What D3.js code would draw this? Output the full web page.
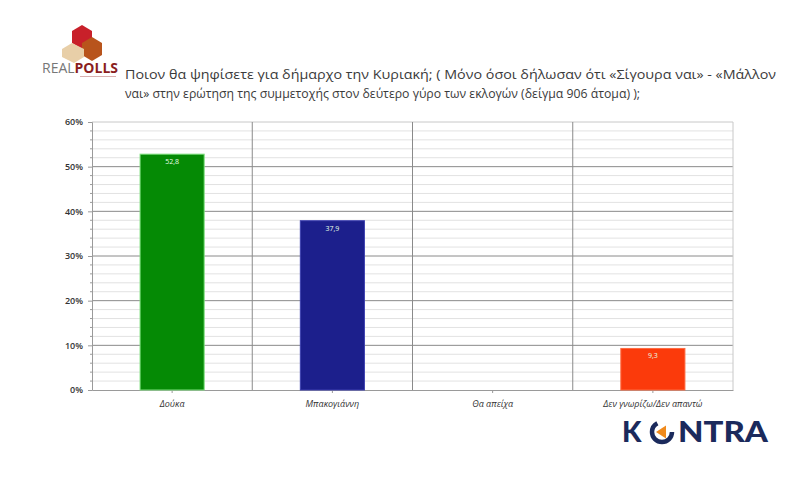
<!DOCTYPE html>
<html><head><meta charset="utf-8">
<script src="https://cdn.jsdelivr.net/npm/d3@7"></script>
<style>html,body{margin:0;padding:0;background:#fff;}svg{display:block;}</style>
</head><body>
<svg id="c" width="798" height="486"></svg>
<script>
const categories = ["Δούκα", "Μπακογιάννη", "Θα απείχα", "Δεν γνωρίζω/Δεν απαντώ"];
const values = [52.8, 37.9, 0, 9.3];
const valueLabels = ["52,8", "37,9", "", "9,3"];
const barColors = ["#058a05", "#1c1f8c", "#b0b0b0", "#fb3a0b"];
const barStrokes = ["#7fe07f", "#3c3fb0", "#b0b0b0", "#ff6a40"];
const yTicks = [0, 10, 20, 30, 40, 50, 60];
const titleLines = [
  "Ποιον θα ψηφίσετε για δήμαρχο την Κυριακή; ( Μόνο όσοι δήλωσαν ότι «Σίγουρα ναι» - «Μάλλον",
  "ναι» στην ερώτηση της συμμετοχής στον δεύτερο γύρο των εκλογών (δείγμα 906 άτομα) );"
];
const titleWidths = [651, 515];

const svg = d3.select("#c");
const L = 92, R = 733, T = 122, B = 390;

const x = d3.scaleBand().domain(categories).range([L, R]).paddingInner(0).paddingOuter(0);
const y = d3.scaleLinear().domain([0, 60]).range([B, T]);

// minor gridlines
const minor = d3.range(0, 61, 2).filter(v => v % 10 !== 0);
svg.append("g").selectAll("line").data(minor).join("line")
  .attr("x1", L).attr("x2", R).attr("y1", d => y(d)).attr("y2", d => y(d))
  .attr("stroke", "#e2e2e2").attr("stroke-width", 1);
// major gridlines
svg.append("g").selectAll("line").data(yTicks.filter(d => d > 0)).join("line")
  .attr("x1", L).attr("x2", R).attr("y1", d => y(d)).attr("y2", d => y(d))
  .attr("stroke", d => d === 60 ? "#c8c8c8" : "#8a8a8a").attr("stroke-width", 1);
// vertical category separators
const seps = categories.slice(1).map(c => x(c));
svg.append("g").selectAll("line").data(seps).join("line")
  .attr("x1", d => d).attr("x2", d => d).attr("y1", T).attr("y2", B)
  .attr("stroke", "#8a8a8a").attr("stroke-width", 1);
svg.append("line").attr("x1", R).attr("x2", R).attr("y1", T).attr("y2", B)
  .attr("stroke", "#c8c8c8");

// y axis
const yAxis = d3.axisLeft(y).tickValues(yTicks).tickFormat(d => d + "%").tickSize(4);
const ya = svg.append("g").attr("transform", `translate(${L},0)`).call(yAxis);
ya.select(".domain").attr("stroke", "#9a9a9a");
ya.selectAll(".tick line").attr("stroke", "#9a9a9a");
ya.selectAll("text").attr("font-family", "Open Sans, sans-serif").attr("font-size", 9)
  .attr("font-weight", 600).attr("fill", "#333").attr("x", -9);
// minor ticks on axis
svg.append("g").selectAll("line").data(minor).join("line")
  .attr("x1", L - 2).attr("x2", L).attr("y1", d => y(d)).attr("y2", d => y(d))
  .attr("stroke", "#9a9a9a");

// x axis
const xAxis = d3.axisBottom(x).tickSize(3).tickSizeOuter(0);
const xa = svg.append("g").attr("transform", `translate(0,${B})`).call(xAxis);
xa.select(".domain").attr("stroke", "#9a9a9a");
xa.selectAll(".tick line").attr("stroke", "#9a9a9a");
xa.selectAll("text").attr("font-family", "Open Sans, sans-serif").attr("font-size", 9)
  .attr("font-style", "italic").attr("fill", "#333").attr("dy", "1.25em");

// bars
const bw = x.bandwidth() * 0.4;
const bars = svg.append("g").selectAll("g").data(categories).join("g");
bars.append("rect")
  .attr("x", d => x(d) + x.bandwidth() / 2 - bw / 2)
  .attr("width", bw)
  .attr("y", (d, i) => y(values[i]))
  .attr("height", (d, i) => y(0) - y(values[i]))
  .attr("fill", (d, i) => barColors[i])
  .attr("stroke", (d, i) => values[i] > 0 ? barStrokes[i] : "none")
  .attr("stroke-width", 1);
bars.append("text")
  .attr("x", d => x(d) + x.bandwidth() / 2)
  .attr("y", (d, i) => y(values[i]) + 10)
  .attr("text-anchor", "middle")
  .attr("font-family", "Open Sans, sans-serif").attr("font-size", 7)
  .attr("fill", "#e8ffe8")
  .text((d, i) => valueLabels[i]);

// title
svg.append("g").selectAll("text").data(titleLines).join("text")
  .attr("x", 125).attr("y", (d, i) => 79 + i * 19)
  .attr("font-family", "Open Sans, sans-serif").attr("font-size", 13.2)
  .attr("textLength", (d, i) => titleWidths[i]).attr("lengthAdjust", "spacingAndGlyphs")
  .attr("fill", "#3a3a3a")
  .text(d => d);

// REALPOLLS logo
const lg = svg.append("g");
lg.append("path").attr("d", "M72,31 L82,25 L92,31 L92,43 L82,49 L72,43 Z").attr("fill", "#c8202a");
lg.append("path").attr("d", "M82,43 L92,37 L102,43 L102,55 L92,61 L82,55 Z").attr("fill", "#b8541c");
lg.append("path").attr("d", "M62,49 L72,43 L84,49 L84,57 L74,63 L62,57 Z").attr("fill", "#e8cfa8");
lg.append("text").attr("x", 42).attr("y", 73).attr("font-family", "Open Sans, sans-serif")
  .attr("font-size", 14).attr("textLength", 76).attr("lengthAdjust", "spacingAndGlyphs")
  .html('<tspan fill="#777">REAL</tspan><tspan fill="#8a1e1e" font-weight="700">POLLS</tspan>');
lg.append("line").attr("x1", 80).attr("x2", 116).attr("y1", 76.5).attr("y2", 76.5)
  .attr("stroke", "#d8b0b0").attr("stroke-width", 1);

// KONTRA logo
const kg = svg.append("g");
kg.append("text").attr("x", 622).attr("y", 442).attr("font-family", "Lato, Open Sans, sans-serif")
  .attr("font-size", 28).attr("font-weight", 900).attr("fill", "#1b2a5c")
  .text("K");
kg.append("circle").attr("cx", 662).attr("cy", 432).attr("r", 10).attr("fill", "none")
  .attr("stroke", "#1b2a5c").attr("stroke-width", 4.5).attr("stroke-dasharray", "42 21");
kg.append("path").attr("d", "M656,432 L666,425.5 L666,438.5 Z").attr("fill", "#f08a1c");
kg.append("text").attr("x", 678).attr("y", 442).attr("font-family", "Lato, Open Sans, sans-serif")
  .attr("font-size", 28).attr("font-weight", 900).attr("fill", "#1b2a5c")
  .attr("textLength", 90).attr("lengthAdjust", "spacingAndGlyphs")
  .text("NTRA");
</script>
</body></html>
